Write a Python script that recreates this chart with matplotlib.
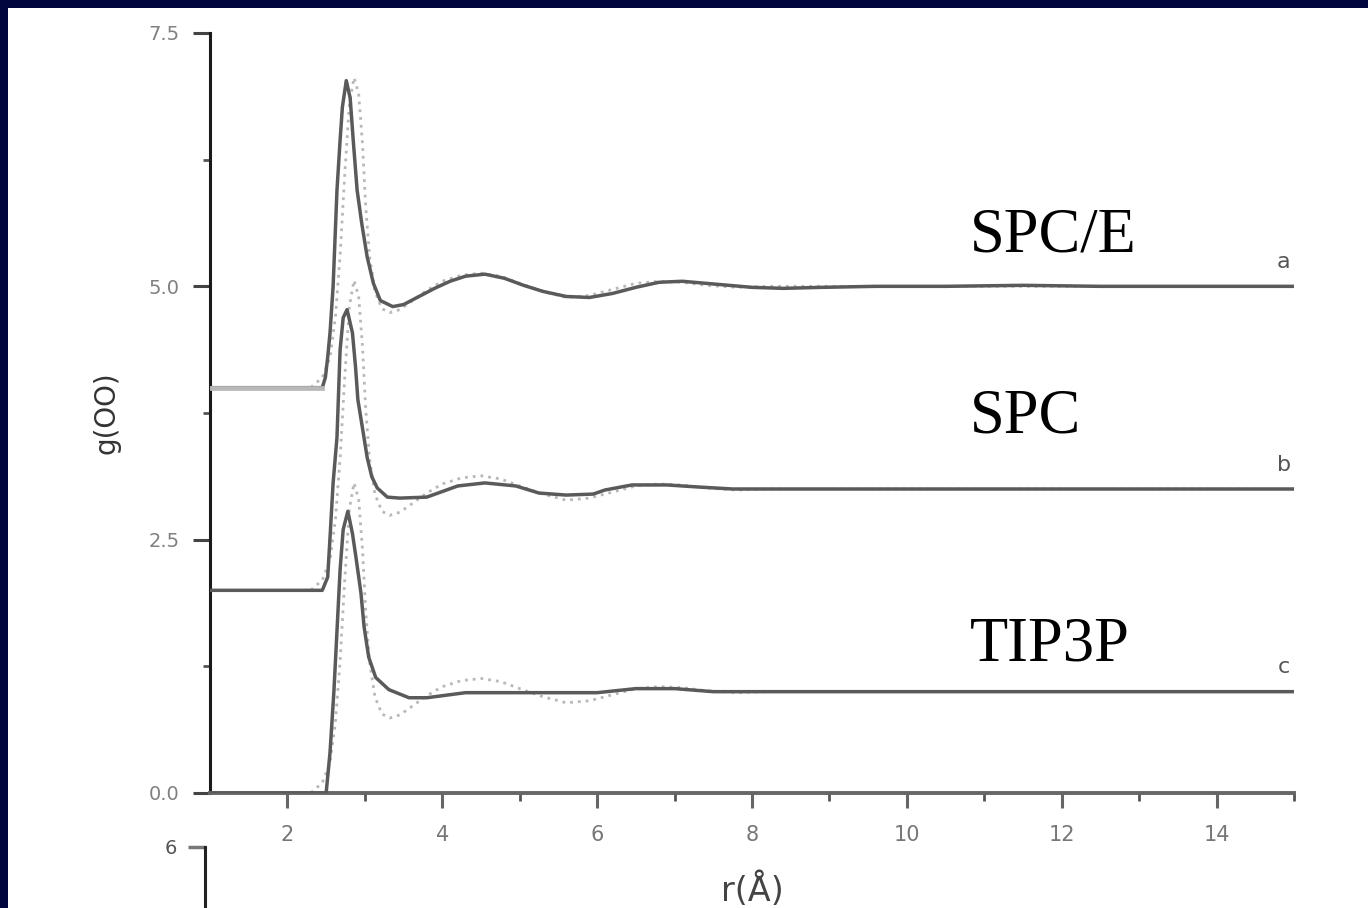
import matplotlib.pyplot as plt
from matplotlib.patches import Rectangle
import numpy as np

# g_OO(r) for the three water models, offsets added when plotting
r_spce = [1.0, 2.45, 2.49, 2.52, 2.55, 2.59, 2.64, 2.68, 2.71, 2.76, 2.81, 2.85, 2.90,
          2.96, 3.03, 3.11, 3.20, 3.36, 3.5, 3.7, 3.9, 4.1, 4.3, 4.55, 4.8, 5.05, 5.3,
          5.6, 5.9, 6.2, 6.5, 6.8, 7.1, 7.4, 7.7, 8.0, 8.4, 8.9, 9.6, 10.5, 11.5, 12.5,
          13.5, 14.5, 15.0]
g_spce = [0.0, 0.0, 0.10, 0.30, 0.54, 1.0, 1.95, 2.44, 2.77, 3.03, 2.86, 2.44, 1.95,
          1.62, 1.29, 1.03, 0.86, 0.80, 0.82, 0.90, 0.98, 1.05, 1.10, 1.12, 1.08, 1.01,
          0.95, 0.90, 0.89, 0.93, 0.99, 1.04, 1.05, 1.03, 1.01, 0.99, 0.98, 0.99, 1.0,
          1.0, 1.01, 1.0, 1.0, 1.0, 1.0]

r_spc = [1.0, 2.45, 2.52, 2.55, 2.59, 2.64, 2.68, 2.72, 2.77, 2.84, 2.88, 2.91, 2.98,
         3.03, 3.09, 3.16, 3.29, 3.45, 3.8, 4.2, 4.55, 4.95, 5.25, 5.6, 5.95, 6.1, 6.45,
         6.9, 7.3, 7.75, 9.0, 11.0, 13.0, 15.0]
g_spc = [0.0, 0.0, 0.13, 0.52, 1.06, 1.51, 2.37, 2.69, 2.77, 2.54, 2.20, 1.88, 1.55,
         1.31, 1.12, 1.01, 0.92, 0.91, 0.92, 1.03, 1.06, 1.03, 0.96, 0.94, 0.95, 0.99,
         1.04, 1.04, 1.02, 1.0, 1.0, 1.0, 1.0, 1.0]

r_tip3p = [1.0, 2.50, 2.55, 2.60, 2.64, 2.68, 2.72, 2.78, 2.84, 2.89, 2.95, 2.99, 3.05,
           3.14, 3.31, 3.57, 3.8, 4.3, 5.0, 6.0, 6.5, 7.0, 7.5, 8.5, 10.0, 12.0, 14.0, 15.0]
g_tip3p = [0.0, 0.0, 0.40, 1.0, 1.6, 2.2, 2.6, 2.78, 2.56, 2.30, 1.97, 1.64, 1.34,
           1.14, 1.02, 0.94, 0.94, 0.99, 0.99, 0.99, 1.03, 1.03, 1.0, 1.0, 1.0, 1.0, 1.0, 1.0]

# experimental curve (dotted), same for each panel
r_exp = [1.0, 2.3, 2.45, 2.55, 2.62, 2.68, 2.74, 2.80, 2.86, 2.92, 2.97, 3.01, 3.06,
         3.13, 3.22, 3.32, 3.45, 3.6, 3.8, 4.0, 4.25, 4.5, 4.75, 5.0, 5.3, 5.6, 5.9,
         6.2, 6.5, 6.8, 7.1, 7.4, 7.8, 8.2, 10.0, 12.0, 15.0]
g_exp = [0.0, 0.0, 0.1, 0.3, 0.7, 1.3, 2.1, 2.8, 3.06, 2.9, 2.4, 1.8, 1.3, 0.95,
         0.78, 0.74, 0.77, 0.85, 0.96, 1.05, 1.11, 1.13, 1.10, 1.03, 0.95, 0.89, 0.91,
         0.97, 1.03, 1.05, 1.04, 1.01, 0.99, 1.0, 1.0, 1.0, 1.0]

offsets = [4.0, 2.0, 0.0]
models = ['SPC/E', 'SPC', 'TIP3P']
letters = ['a', 'b', 'c']
yticks = [0.0, 2.5, 5.0, 7.5]
xticks = [2, 4, 6, 8, 10, 12, 14]

W, H = 1368, 908
fig = plt.figure(figsize=(W / 100, H / 100), dpi=100)
fig.patch.set_facecolor('white')
# dark frame on top and left
fig.patches.append(Rectangle((0, 1 - 8 / H), 1, 8 / H, transform=fig.transFigure,
                             facecolor='#02063f', edgecolor='none', zorder=-1))
fig.patches.append(Rectangle((0, 0), 8 / W, 1, transform=fig.transFigure,
                             facecolor='#02063f', edgecolor='none', zorder=-1))

ax = fig.add_axes([210 / W, 1 - 793 / H, (1294 - 210) / W, (793 - 33) / H])

curves = [(r_spce, g_spce), (r_spc, g_spc), (r_tip3p, g_tip3p)]
for (r, g), off in zip(curves, offsets):
    ax.plot(r_exp, np.array(g_exp) + off, color='#b8b8b8', lw=2.0,
            linestyle=(0, (1, 1.8)), zorder=2)
    ax.plot(r, np.array(g) + off, color='#5a5a5a', lw=2.5, zorder=3)
# lighter flat start of curve a
ax.plot(r_spce[:2], np.array(g_spce[:2]) + offsets[0], color='#b8b8b8', lw=3.4, zorder=4)

for name, off, y in zip(models, offsets, [5.34, 3.56, 1.31]):
    ax.text(10.82, y, name, fontsize=45, family='Liberation Serif', color='black',
            va='baseline', ha='left')
for lt, off in zip(letters, offsets):
    ax.text(14.87, off + 1.24, lt, fontsize=16, color='#555555', ha='center',
            va='center')

ax.set_xlim(1, 15)
ax.set_ylim(0, 7.5)
ax.set_xticks(xticks)
ax.set_xticklabels([str(x) for x in xticks])
ax.set_xticks(np.arange(3, 16, 2), minor=True)
ax.set_yticks(yticks)
ax.set_yticklabels(['%.1f' % y for y in yticks])
ax.set_yticks([1.25, 3.75, 6.25], minor=True)

for s in ['top', 'right']:
    ax.spines[s].set_visible(False)
ax.spines['left'].set_color('#1a1a1a')
ax.spines['left'].set_linewidth(2.2)
ax.spines['bottom'].set_color('#666666')
ax.spines['bottom'].set_linewidth(2.8)

ax.tick_params(axis='y', which='major', direction='out', length=12, width=2.2,
               color='#444444', labelsize=14, labelcolor='#808080', pad=10)
ax.tick_params(axis='y', which='minor', direction='out', length=5, width=2.0,
               color='#555555')
ax.tick_params(axis='x', which='major', direction='out', length=11, width=2.2,
               color='#666666', labelsize=15, labelcolor='#777777', pad=12)
ax.tick_params(axis='x', which='minor', direction='out', length=6, width=2.0,
               color='#555555')

ax.set_ylabel('g(OO)', fontsize=20, color='#333333', labelpad=20)
ax.set_xlabel('r(Å)', fontsize=24, color='#444444', labelpad=20)

# top of the next panel, cut off by the frame
ax2 = fig.add_axes([205 / W, -0.5, 0.6, 1 - 847 / H + 0.5])
ax2.set_ylim(0, 6)
ax2.set_xlim(0, 1)
ax2.set_yticks([6])
ax2.set_yticklabels(['6'])
ax2.set_xticks([])
for s in ['top', 'right', 'bottom']:
    ax2.spines[s].set_visible(False)
ax2.spines['left'].set_color('#222222')
ax2.spines['left'].set_linewidth(2.2)
ax2.tick_params(axis='y', direction='out', length=12, width=2.5, color='#777777',
                labelsize=14, labelcolor='#555555', pad=8)
ax2.patch.set_alpha(0)

fig.savefig('out.png', dpi=100)
